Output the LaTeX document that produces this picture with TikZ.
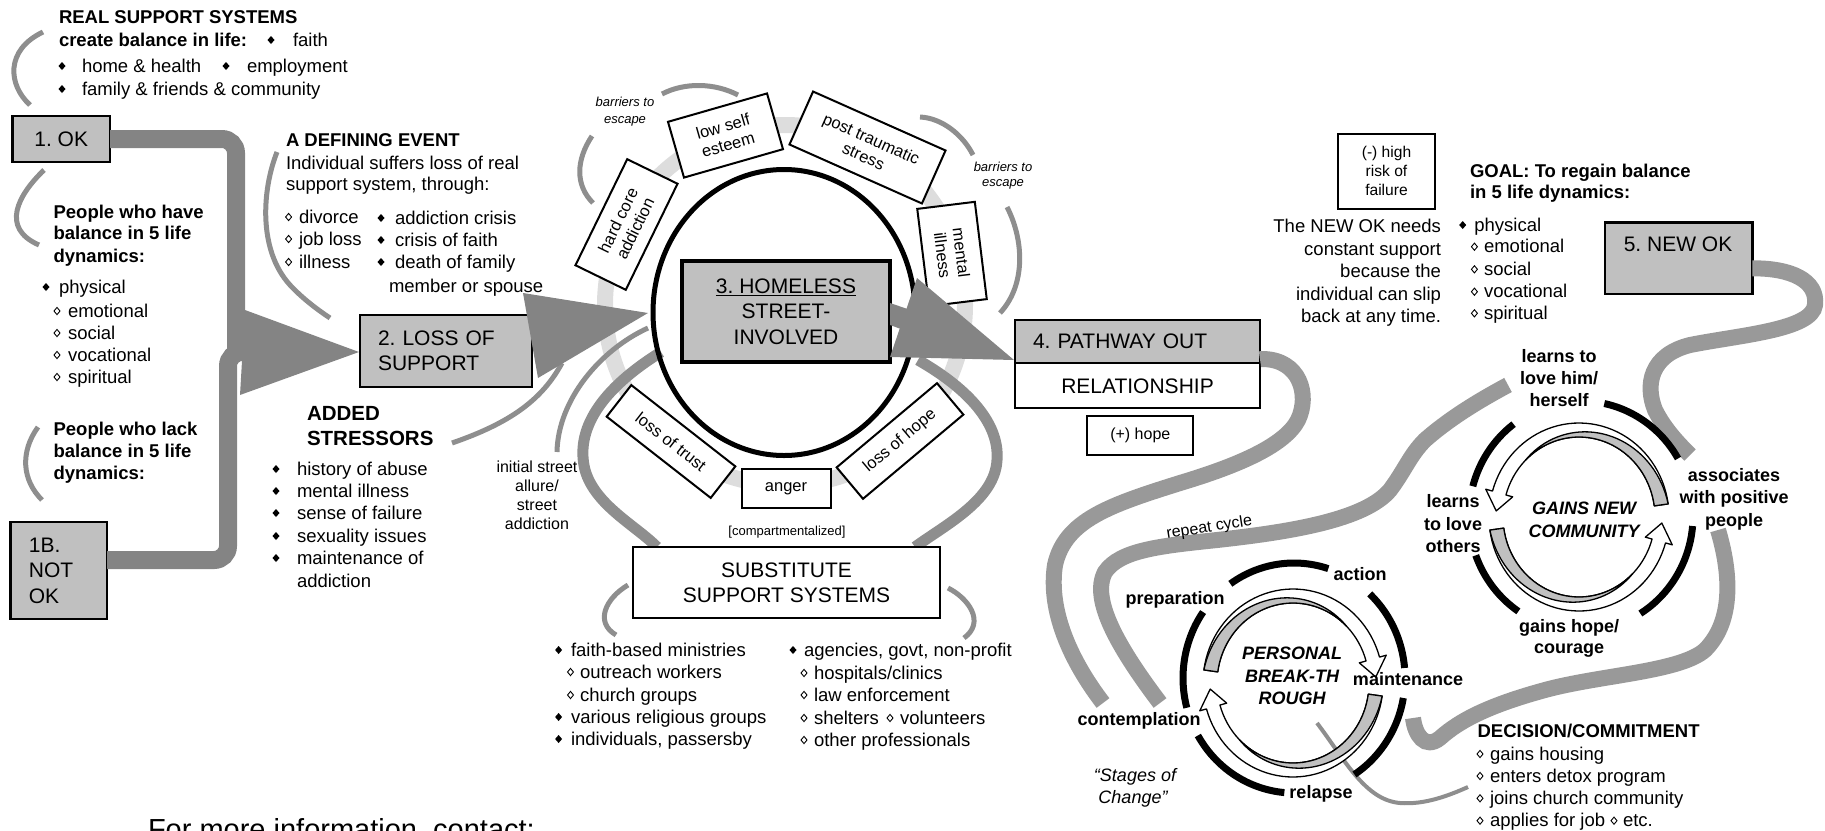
\documentclass[tikz,border=0pt]{standalone}
\usepackage{fontspec}
\setmainfont{Liberation Sans}
\frenchspacing
\definecolor{boxgray}{HTML}{C0C0C0}
\definecolor{arrowgray}{HTML}{848484}
\definecolor{pathgray}{HTML}{999999}
\definecolor{ringgray}{HTML}{DDDDDD}
\definecolor{linkgray}{HTML}{8E8E8E}
\newcommand\fsz[2]{\fontsize{#1}{#2}\selectfont}
% one half of a two-arrow cycle: white arrow outside, grey crescent inside
\newcommand\halfcyc[1]{%
  \draw[cycline, fill=white]
    plot[domain=172+#1:16+#1, samples=45] ({90*cos(\x)},{94*sin(\x)})
    -- ({97*cos(16+#1)},{101*sin(16+#1)})
    -- ({83*cos(4+#1)},{87*sin(4+#1)})
    -- ({69*cos(16+#1)},{73*sin(16+#1)})
    -- plot[domain=16+#1:172+#1, samples=45] ({76*cos(\x)},{80*sin(\x)})
    -- cycle;
  \draw[cycline, fill=boxgray]
    plot[domain=172+#1:45+#1, samples=40]
      ({(76+14*(\x-45-#1)/127)*cos(\x)},{(80+14*(\x-45-#1)/127)*sin(\x)})
    -- plot[domain=45+#1:172+#1, samples=40] ({76*cos(\x)},{80*sin(\x)})
    -- cycle;
}
\begin{document}
\begin{tikzpicture}[x=1pt, y=-1pt,
  every node/.style={inner sep=0pt, outer sep=0pt},
  lst/.style={anchor=base west, font=\fsz{18.5}{22}},
  hdr/.style={anchor=base west, font=\bfseries\fsz{18.5}{22}},
  rlst/.style={anchor=base east, font=\fsz{18.5}{22}},
  bc/.style={anchor=base, font=\bfseries\fsz{18}{22}},
  bic/.style={anchor=base, font=\bfseries\itshape\fsz{18}{22}},
  smc/.style={anchor=base, font=\fsz{16}{19}},
  esc/.style={anchor=base, font=\itshape\fsz{13}{15}},
  gbox/.style={draw, line width=2.5pt, fill=boxgray, font=\fsz{21}{25.5}},
  wbox/.style={draw, line width=2pt, fill=white},
  tbox/.style={draw, line width=2pt, fill=white, align=center, font=\fsz{16.5}{19}},
  thinlink/.style={draw=linkgray, line width=5pt},
  wrap/.style={draw=linkgray, line width=11pt},
  bigline/.style={draw=arrowgray, line width=18pt},
  road/.style={draw=pathgray, line width=16pt},
  cycline/.style={draw=black, line width=1.3pt, line join=round},
  blackarc/.style={draw=black, line width=7pt},
  fdia/.pic={\fill (-3.5,0) -- (0,-4) -- (3.5,0) -- (0,4) -- cycle;},
  odia/.pic={\draw[line width=0.9pt] (-3,0) -- (0,-3.6) -- (3,0) -- (0,3.6) -- cycle;}
]
\path[use as bounding box] (0,0) rectangle (1825,830);
\clip (0,0) rectangle (1825,830);

% ---------- pale ring behind the street-involved circle
\draw[ringgray, line width=16pt] (785,305) circle[radius=180pt];

% ---------- thin grey braces
\draw[thinlink] (43,32) .. controls (5,50) and (8,85) .. (30,105);
\draw[thinlink] (44,170) .. controls (18,195) and (0,228) .. (39,245);
\draw[thinlink] (38,427) .. controls (20,452) and (22,480) .. (42,500);
\draw[thinlink] (277,152) .. controls (262,190) and (258,250) .. (290,285) .. controls (303,299) and (318,310) .. (330,318);
\draw[thinlink] (452,443) .. controls (510,423) and (542,400) .. (562,363);
\draw[thinlink] (557,452) .. controls (558,400) and (600,350) .. (648,328);
\draw[thinlink] (662,94) .. controls (685,82) and (715,83) .. (738,95);
\draw[thinlink] (592,136) .. controls (576,160) and (575,185) .. (593,203);
\draw[thinlink] (920,117) .. controls (942,118) and (963,135) .. (973,155);
\draw[thinlink] (1007,207) .. controls (1024,240) and (1026,285) .. (1000,313);
\draw[thinlink] (628,585) .. controls (606,598) and (594,622) .. (616,635);
\draw[thinlink] (948,588) .. controls (968,598) and (986,622) .. (964,638);

% ---------- boxes on the left
\node[gbox, minimum width=97.5pt, minimum height=46pt] (ok) at (61.25,139) {1. OK};
\node[gbox, minimum width=96.3pt, minimum height=97pt, text width=60pt, align=left] (nok) at (58.85,570.5) {1B.\\NOT\\OK};
\node[gbox, minimum width=172pt, minimum height=72pt, text width=136pt, align=left] (los) at (446,351) {2. LOSS OF\\SUPPORT};

% thick feeds from 1 and 1B into the loss arrow
\draw[bigline, rounded corners=14pt] (ok.east) -| (236,350);
\draw[bigline, rounded corners=14pt] ([yshift=10.5pt]nok.east) -| (228,352) -- (246,352);
\fill[arrowgray] (245,310) -- (359,352) -- (240,395) -- cycle;

% ---------- substitute support loops
\coordinate (lpA) at (661,352);
\coordinate (lpB) at (918,360);
\draw[wrap] (lpA) .. controls (600,390) and (575,430) .. (585,470) .. controls (595,505) and (635,525) .. (657,547);
\draw[wrap] (lpB) .. controls (962,385) and (1000,420) .. (997,460) .. controls (995,500) and (945,525) .. (915,547);

% ---------- central circle and its box
\draw[line width=5pt] (784,312.5) circle[x radius=131pt, y radius=143pt];
\node[gbox, line width=4.5pt, minimum width=208pt, minimum height=101pt, align=center] (home) at (786,311.5) {\underline{3. HOMELESS}\\STREET-\\INVOLVED};

% barriers around the circle
\node[tbox, minimum width=118pt, minimum height=56pt, rotate=64] (hca) at (626.5,224.5) {hard core\\addiction};
\node[tbox, minimum width=103pt, minimum height=58pt, rotate=16] (lse) at (725.5,135.5) {low self\\esteem};
\node[tbox, minimum width=145pt, minimum height=58pt, rotate=-24] (pts) at (867.5,147.5) {post traumatic\\stress};
\node[tbox, minimum width=98pt, minimum height=58pt, rotate=-83] (mil) at (952,254) {mental\\illness};
\node[tbox, minimum width=132pt, minimum height=40pt, rotate=-38] (lot) at (671,441.5) {loss of trust};
\node[tbox, minimum width=131pt, minimum height=41pt, rotate=40] (loh) at (900,441) {loss of hope};
\node[tbox, minimum width=89pt, minimum height=39pt] (ang) at (786,488.5) {anger};

% arrows into and out of the circle
\fill[arrowgray] (523,293) -- (648,313) -- (538,378) -- cycle;
\fill[arrowgray] (890,303) -- (928,316) -- (920,336) -- (890,325) -- cycle;
\fill[arrowgray] (917,278) -- (1014,360) -- (890,357) -- cycle;

% ---------- substitute support systems
\node[wbox, minimum width=307pt, minimum height=71pt, align=center, font=\fsz{21}{25}] (sub) at (786.5,582.5) {SUBSTITUTE\\SUPPORT SYSTEMS};

% ---------- pathway out
\node[gbox, line width=2pt, minimum width=245pt, minimum height=43.3pt, text width=209pt, align=left] (pw) at (1137.5,341.65) {4. PATHWAY OUT};
\node[wbox, minimum width=245pt, minimum height=45pt, font=\fsz{21}{25}] (rel) at (1137.5,385.8) {RELATIONSHIP};
\node[wbox, minimum width=106pt, minimum height=39pt, font=\fsz{16}{19}] (hope) at (1140.3,435.5) {(+) hope};

% ---------- new OK
\node[gbox, line width=2.5pt, minimum width=147.4pt, minimum height=71.3pt] (newok) at (1678.7,258.35) {};
\node[anchor=base, font=\fsz{21}{25}] (newokt) at (1678,251.5) {5. NEW OK};
\node[wbox, minimum width=97pt, minimum height=75pt, align=center, font=\fsz{15.6}{19}] (risk) at (1386.5,171.4) {(-) high\\risk of\\failure};

% ---------- winding roads on the right
\coordinate (rpA) at (1160,703);
\coordinate (rpB) at (1508,385);
\coordinate (nkB) at (1690,455);
\coordinate (ppA) at (1718,530);
\coordinate (ppB) at (1413,718);
\draw[road] ([yshift=4pt]pw.south east) -- (1262,359) .. controls (1300,359) and (1310,395) .. (1298,420)
  .. controls (1285,445) and (1240,465) .. (1180,483) .. controls (1110,505) and (1065,520) .. (1055,565)
  .. controls (1048,610) and (1070,660) .. (1103,703);
\draw[road] (rpA) .. controls (1120,650) and (1090,600) .. (1105,572) .. controls (1120,550) and (1160,546) .. (1217,540)
  .. controls (1290,532) and (1365,520) .. (1390,490) .. controls (1405,470) and (1410,455) .. (1425,440)
  .. controls (1450,418) and (1480,400) .. (rpB);
\draw[road] ([yshift=-10pt]newok.east) .. controls (1790,268) and (1818,280) .. (1815,305)
  .. controls (1812,330) and (1740,335) .. (1690,345) .. controls (1650,355) and (1645,385) .. (1655,410)
  .. controls (1665,430) and (1680,445) .. (nkB);
\draw[road] (ppA) .. controls (1730,570) and (1735,620) .. (1705,650) .. controls (1680,672) and (1600,675) .. (1545,690)
  .. controls (1490,705) and (1460,720) .. (1440,738) .. controls (1425,750) and (1415,735) .. (ppB);
\coordinate (dcA) at (1468,787);
\coordinate (dcB) at (1317,723);
\draw[draw=linkgray, line width=4pt] (dcB) .. controls (1345,760) and (1365,800) .. (1400,803) .. controls (1425,805) and (1450,795) .. (dcA);

% ---------- personal breakthrough cycle
\begin{scope}[shift={(1294,678)}, yscale=-1]
  \foreach \a/\b in {72/125, 5/47, 145/195, -57/-10, 210/265}
    \draw[blackarc] plot[domain=\a:\b, samples=30] ({111*cos(\x)},{115*sin(\x)});
\end{scope}
\begin{scope}[shift={(1293,683)}, yscale=-1]
  \halfcyc{0}
  \halfcyc{180}
\end{scope}

% ---------- new community cycle
\begin{scope}[shift={(1581,516)}, yscale=-1]
  \foreach \a/\b in {30/78, 127/165, 200/236, -58/-5}
    \draw[blackarc] plot[domain=\a:\b, samples=30] ({112*cos(\x)},{115*sin(\x)});
\end{scope}
\begin{scope}[shift={(1579,517)}, yscale=-1, xscale=-1]
  \halfcyc{0}
  \halfcyc{180}
\end{scope}

% ---------- texts, upper left
\node[hdr] (rss) at (59,23) {REAL SUPPORT SYSTEMS};
\node[hdr] (cbl) at (59,46) {create balance in life:};
\pic at (271,40) {fdia}; \node[lst] (faith) at (293,46) {faith};
\pic at (62,66) {fdia}; \node[lst] (hh) at (82,72) {home \& health};
\pic at (226,66) {fdia}; \node[lst] (emp) at (247,72) {employment};
\pic at (62,89) {fdia}; \node[lst] (ffc) at (82,95) {family \& friends \& community};

\node[hdr] (ph1) at (53.6,218) {People who have};
\node[hdr] (ph2) at (53.6,239) {balance in 5 life};
\node[hdr] (ph3) at (53.6,262) {dynamics:};
\pic at (46,287) {fdia}; \node[lst] (d1) at (59,293) {physical};
\pic at (57,311) {odia}; \node[lst] (d2) at (68,317) {emotional};
\pic at (57,333) {odia}; \node[lst] (d3) at (68,339) {social};
\pic at (57,355) {odia}; \node[lst] (d4) at (68,361) {vocational};
\pic at (57,377) {odia}; \node[lst] (d5) at (68,383) {spiritual};

\node[hdr] (pl1) at (53.6,435) {People who lack};
\node[hdr] (pl2) at (53.6,457) {balance in 5 life};
\node[hdr] (pl3) at (53.6,479) {dynamics:};

% defining event
\node[hdr] (ade) at (286,146) {A DEFINING EVENT};
\node[lst] (ind1) at (286,169) {Individual suffers loss of real};
\node[lst] (ind2) at (286,190) {support system, through:};
\pic at (288.6,217) {odia}; \node[lst] (e1) at (299,223) {divorce};
\pic at (288.6,239) {odia}; \node[lst] (e2) at (299,245) {job loss};
\pic at (288.6,262) {odia}; \node[lst] (e3) at (299,268) {illness};
\pic at (381,218) {fdia}; \node[lst] (e4) at (395,224) {addiction crisis};
\pic at (381,240) {fdia}; \node[lst] (e5) at (395,246) {crisis of faith};
\pic at (381,262) {fdia}; \node[lst] (e6) at (395,268) {death of family};
\node[lst] (e7) at (389,292) {member or spouse};

% added stressors
\node[anchor=base west, font=\bfseries\fsz{20.5}{25}] (as1) at (307,420) {ADDED};
\node[anchor=base west, font=\bfseries\fsz{20.5}{25}] (as2) at (307,445) {STRESSORS};
\pic at (276,469) {fdia}; \node[lst] (s1) at (297,475) {history of abuse};
\pic at (276,491) {fdia}; \node[lst] (s2) at (297,497) {mental illness};
\pic at (276,513) {fdia}; \node[lst] (s3) at (297,519) {sense of failure};
\pic at (276,536) {fdia}; \node[lst] (s4) at (297,542) {sexuality issues};
\pic at (276,558) {fdia}; \node[lst] (s5) at (297,564) {maintenance of};
\node[lst] (s6) at (297,587) {addiction};

\node[smc] (is1) at (537,472) {initial street};
\node[smc] (is2) at (537,491) {allure/};
\node[smc] (is3) at (537,510) {street};
\node[smc] (is4) at (537,529) {addiction};

\node[esc] (be1) at (625,106) {barriers to};
\node[esc] (be2) at (625,123) {escape};
\node[esc] (be3) at (1003,171) {barriers to};
\node[esc] (be4) at (1003,186) {escape};
\node[anchor=base, font=\fsz{13}{15}] (cmp) at (787,535) {[compartmentalized]};

% substitute support lists
\pic at (558.6,650) {fdia}; \node[lst] (f1) at (571,656) {faith-based ministries};
\pic at (570.5,672) {odia}; \node[lst] (f2) at (580,678) {outreach workers};
\pic at (570.5,695) {odia}; \node[lst] (f3) at (580,701) {church groups};
\pic at (558.6,717) {fdia}; \node[lst] (f4) at (571,723) {various religious groups};
\pic at (558.6,739) {fdia}; \node[lst] (f5) at (571,745) {individuals, passersby};
\pic at (793,650) {fdia}; \node[lst] (g1) at (804,656) {agencies, govt, non-profit};
\pic at (804,673) {odia}; \node[lst] (g2) at (814,679) {hospitals/clinics};
\pic at (804,695) {odia}; \node[lst] (g3) at (814,701) {law enforcement};
\pic at (804,718) {odia}; \node[lst] (g4) at (814,724) {shelters};
\pic at (890,718) {odia}; \node[lst] (g5) at (900,724) {volunteers};
\pic at (804,740) {odia}; \node[lst] (g6) at (814,746) {other professionals};

\node[anchor=base west, font=\fsz{29}{33}] (info) at (148,839) {For more information, contact:};

% ---------- texts, upper right
\node[rlst] (n1) at (1441,232.7) {The NEW OK needs};
\node[rlst] (n2) at (1441,255) {constant support};
\node[rlst] (n3) at (1441,277.7) {because the};
\node[rlst] (n4) at (1441,300) {individual can slip};
\node[rlst] (n5) at (1441,322) {back at any time.};
\node[hdr] (goal1) at (1470,177) {GOAL: To regain balance};
\node[hdr] (goal2) at (1470,198.3) {in 5 life dynamics:};
\pic at (1462.7,225) {fdia}; \node[lst] (r1) at (1474.4,231) {physical};
\pic at (1474.4,246.7) {odia}; \node[lst] (r2) at (1484,252.7) {emotional};
\pic at (1474.4,269.3) {odia}; \node[lst] (r3) at (1484,275.3) {social};
\pic at (1474.4,291.7) {odia}; \node[lst] (r4) at (1484,297.7) {vocational};
\pic at (1474.4,313.3) {odia}; \node[lst] (r5) at (1484,319.3) {spiritual};

% ---------- texts, lower right
\node[anchor=base, font=\fsz{16}{19}, rotate=9] (rep) at (1210,532) {repeat cycle};
\node[bc] (act) at (1360,580) {action};
\node[bc] (prep) at (1175,604) {preparation};
\node[bc] (mnt) at (1408,685) {maintenance};
\node[bc] (cnt) at (1139,725) {contemplation};
\node[bc] (rlp) at (1321,798) {relapse};
\node[bic] (pb1) at (1292,659.5) {PERSONAL};
\node[bic] (pb2) at (1292,682.5) {BREAK-TH};
\node[bic] (pb3) at (1292,704.5) {ROUGH};
\node[anchor=base, font=\itshape\fsz{18}{22}] (soc1) at (1135,781) {“Stages of};
\node[anchor=base, font=\itshape\fsz{18}{22}] (soc2) at (1133,803) {Change”};

\node[bc] (lh1) at (1559,362.7) {learns to};
\node[bc] (lh2) at (1559,384.3) {love him/};
\node[bc] (lh3) at (1559,406) {herself};
\node[bc] (ap1) at (1734,481) {associates};
\node[bc] (ap2) at (1734,503.3) {with positive};
\node[bc] (ap3) at (1734,526) {people};
\node[bc] (lo1) at (1453,507.7) {learns};
\node[bc] (lo2) at (1453,530) {to love};
\node[bc] (lo3) at (1453,552) {others};
\node[bc] (gh1) at (1569,632) {gains hope/};
\node[bc] (gh2) at (1569,653.3) {courage};
\node[bic] (gc1) at (1584,514.3) {GAINS NEW};
\node[bic] (gc2) at (1584,537.7) {COMMUNITY};

\node[hdr] (dec) at (1477.6,737.7) {DECISION/COMMITMENT};
\pic at (1480,754) {odia}; \node[lst] (c1) at (1490,760) {gains housing};
\pic at (1480,776) {odia}; \node[lst] (c2) at (1490,782) {enters detox program};
\pic at (1480,798.3) {odia}; \node[lst] (c3) at (1490,804.3) {joins church community};
\pic at (1480,820.7) {odia}; \node[lst] (c4) at (1490,826.7) {applies for job};
\pic at (1614,820.7) {odia}; \node[lst] (c5) at (1623,826.7) {etc.};
\end{tikzpicture}
\end{document}
